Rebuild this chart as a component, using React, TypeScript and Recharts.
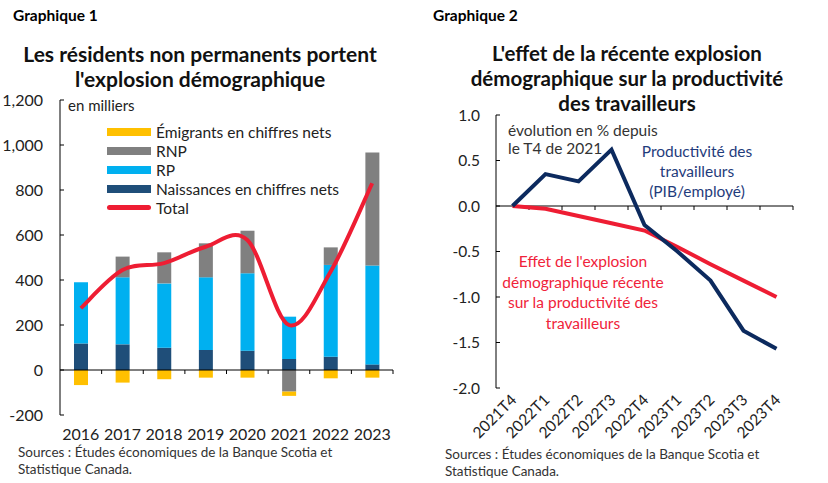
import React from 'react';
import { ComposedChart, LineChart, Bar, Line, XAxis, YAxis, ReferenceLine, Legend } from 'recharts';

// ---------- Graphique 1 data ----------
const years = ['2016', '2017', '2018', '2019', '2020', '2021', '2022', '2023'];
const naissances = [118, 114, 99, 89, 86, 49, 59, 25];
const rp = [272, 298, 286, 323, 344, 188, 408, 439];
const rnp = [0, 92, 138, 151, 189, -96, 78, 503];
const emigrants = [-67, -56, -41, -34, -34, -19, -37, -34];
const total = [275, 444, 475, 548, 578, 200, 437, 830];
const leftTicks = [-200, 0, 200, 400, 600, 800, 1000, 1200];

// ---------- Graphique 2 data ----------
const quarters = ['2021T4', '2022T1', '2022T2', '2022T3', '2022T4', '2023T1', '2023T2', '2023T3', '2023T4'];
const productivite = [0, 0.35, 0.27, 0.62, -0.21, -0.5, -0.82, -1.37, -1.57];
const effet = [0, -0.03, -0.11, -0.19, -0.27, -0.45, -0.64, -0.82, -1.0];
const rightTicks = [-2, -1.5, -1, -0.5, 0, 0.5, 1];

const FONT = 'Lato, "Open Sans", sans-serif';
const C_YELLOW = '#FFC000';
const C_GRAY = '#808080';
const C_LBLUE = '#00B0F0';
const C_DBLUE = '#1F4E79';
const C_RED = '#EE1D33';
const C_NAVY = '#0C2A5E';

const data1 = years.map((y, i) => ({
  year: y,
  naissances: naissances[i],
  rp: rp[i],
  rnp: rnp[i],
  emigrants: emigrants[i],
  total: total[i],
}));

const data2 = quarters.map((q, i) => ({
  q,
  productivite: productivite[i],
  effet: effet[i],
}));

const legendItems = [
  { name: 'Émigrants en chiffres nets', color: C_YELLOW, line: false },
  { name: 'RNP', color: C_GRAY, line: false },
  { name: 'RP', color: C_LBLUE, line: false },
  { name: 'Naissances en chiffres nets', color: C_DBLUE, line: false },
  { name: 'Total', color: C_RED, line: true },
];

// Catmull-Rom style smoothing (like spreadsheet "smoothed line")
const smoothCurve: any = (context: any) => {
  let pts: number[][] = [];
  return {
    areaStart() {},
    areaEnd() {},
    lineStart() {
      pts = [];
    },
    point(x: number, y: number) {
      pts.push([+x, +y]);
    },
    lineEnd() {
      const n = pts.length;
      if (!n) return;
      context.moveTo(pts[0][0], pts[0][1]);
      for (let i = 0; i < n - 1; i++) {
        const p0 = pts[i - 1] || pts[i];
        const p1 = pts[i];
        const p2 = pts[i + 1];
        const p3 = pts[i + 2] || p2;
        context.bezierCurveTo(
          p1[0] + (p2[0] - p0[0]) / 6,
          p1[1] + (p2[1] - p0[1]) / 6,
          p2[0] - (p3[0] - p1[0]) / 6,
          p2[1] - (p3[1] - p1[1]) / 6,
          p2[0],
          p2[1]
        );
      }
    },
  };
};

const makeZeroAxis = (count: number) => (props: any) => {
  const { x1, y1, x2 } = props;
  const step = (x2 - x1) / count;
  const ticks = [];
  for (let i = 1; i <= count; i++) {
    const x = x1 + step * i;
    ticks.push(<line key={i} x1={x} x2={x} y1={y1} y2={y1 + 4} stroke="#000" strokeWidth={1} />);
  }
  return (
    <g>
      <line x1={x1} x2={x2} y1={y1} y2={y1} stroke="#000" strokeWidth={1} />
      {ticks}
    </g>
  );
};

const renderLegend = () => (
  <div style={{ fontFamily: FONT, fontSize: 15.5, color: '#222' }}>
    {legendItems.map((it) => (
      <div key={it.name} style={{ display: 'flex', alignItems: 'center', height: 19 }}>
        <div
          style={{
            width: 44,
            height: it.line ? 5 : 8,
            background: it.color,
            borderRadius: it.line ? 3 : 0,
            marginRight: 5,
          }}
        />
        <span style={{ whiteSpace: 'nowrap' }}>{it.name}</span>
      </div>
    ))}
  </div>
);

const RotTick = (props: any) => {
  const { x, y, payload } = props;
  return (
    <g transform={`translate(${x + 5},${y + 13})`}>
      <text
        x={0}
        y={0}
        transform="rotate(-45)"
        textAnchor="end"
        fontFamily={FONT}
        fontSize={15.5}
        fill="#222"
      >
        {payload.value}
      </text>
    </g>
  );
};

const abs = (left: number, top: number, extra: any = {}) => ({
  position: 'absolute' as const,
  left,
  top,
  fontFamily: FONT,
  whiteSpace: 'nowrap' as const,
  ...extra,
});

export default function App() {
  return (
    <div style={{ position: 'absolute', left: 0, top: 0, width: 828, height: 483, background: '#fff', fontFamily: FONT }}>
      {/* Headers */}
      <div style={abs(13, 6, { fontSize: 15.5, fontWeight: 700, color: '#000' })}>Graphique 1</div>
      <div style={abs(433, 6, { fontSize: 15.5, fontWeight: 700, color: '#000' })}>Graphique 2</div>

      <div style={abs(0, 41, { width: 400, textAlign: 'center', fontSize: 21, fontWeight: 700, lineHeight: '25px', color: '#111' })}>
        Les résidents non permanents portent
        <br />
        l'explosion démographique
      </div>
      <div style={abs(420, 41, { width: 414, textAlign: 'center', fontSize: 20.5, fontWeight: 700, lineHeight: '25px', color: '#111' })}>
        L'effet de la récente explosion
        <br />
        démographique sur la productivité
        <br />
        des travailleurs
      </div>

      {/* Chart 1 */}
      <div style={{ position: 'absolute', left: 0, top: 0 }}>
        <ComposedChart
          width={420}
          height={483}
          data={data1}
          stackOffset="sign"
          margin={{ top: 100, right: 27, bottom: 38, left: 0 }}
        >
          <XAxis
            dataKey="year"
            axisLine={false}
            tickLine={false}
            tickSize={0}
            tickMargin={14}
            height={30}
            interval={0}
            tick={{ fontFamily: FONT, fontSize: 16, fill: '#222' }}
          />
          <YAxis
            width={60}
            domain={[-200, 1200]}
            ticks={leftTicks}
            interval={0}
            tickSize={-4}
            tickMargin={21}
            axisLine={{ stroke: '#000' }}
            tickLine={{ stroke: '#000' }}
            tickFormatter={(v: number) => v.toLocaleString('en-US')}
            tick={{ fontFamily: FONT, fontSize: 16, fill: '#222' }}
          />
          <Legend
            layout="vertical"
            align="center"
            verticalAlign="middle"
            content={renderLegend}
            wrapperStyle={{ position: 'absolute', left: 107, top: 122, width: 280 }}
          />
          <Bar dataKey="naissances" stackId="a" fill={C_DBLUE} barSize={14} isAnimationActive={false} />
          <Bar dataKey="rp" stackId="a" fill={C_LBLUE} barSize={14} isAnimationActive={false} />
          <Bar dataKey="rnp" stackId="a" fill={C_GRAY} barSize={14} isAnimationActive={false} />
          <Bar dataKey="emigrants" stackId="a" fill={C_YELLOW} barSize={14} isAnimationActive={false} />
          <ReferenceLine y={0} shape={makeZeroAxis(years.length)} />
          <Line
            dataKey="total"
            type={smoothCurve}
            stroke={C_RED}
            strokeWidth={4}
            dot={false}
            activeDot={false}
            isAnimationActive={false}
          />
        </ComposedChart>
      </div>
      <div style={abs(68, 96, { fontSize: 15, color: '#222' })}>en milliers</div>

      {/* Chart 2 */}
      <div style={{ position: 'absolute', left: 420, top: 0 }}>
        <LineChart width={408} height={483} data={data2} margin={{ top: 115, right: 35, bottom: 35, left: 0 }}>
          <XAxis
            dataKey="q"
            axisLine={false}
            tickLine={false}
            tickSize={0}
            tickMargin={0}
            height={60}
            interval={0}
            padding={{ left: 16.5, right: 16.5 }}
            tick={<RotTick />}
          />
          <YAxis
            width={76}
            domain={[-2, 1]}
            ticks={rightTicks}
            interval={0}
            tickSize={-4}
            tickMargin={20}
            axisLine={{ stroke: '#000' }}
            tickLine={{ stroke: '#000' }}
            tickFormatter={(v: number) => v.toFixed(1)}
            tick={{ fontFamily: FONT, fontSize: 15.5, fill: '#222' }}
          />
          <ReferenceLine y={0} shape={makeZeroAxis(quarters.length)} />
          <Line dataKey="effet" type="linear" stroke={C_RED} strokeWidth={4} dot={false} activeDot={false} isAnimationActive={false} />
          <Line dataKey="productivite" type="linear" stroke={C_NAVY} strokeWidth={4} dot={false} activeDot={false} isAnimationActive={false} />
        </LineChart>
      </div>
      <div style={abs(508, 121, { fontSize: 15.5, lineHeight: '18px', color: '#333' })}>
        évolution en % depuis
        <br />
        le T4 de 2021
      </div>
      <div style={abs(618, 141, { width: 158, textAlign: 'center', fontSize: 15.5, lineHeight: '20px', color: '#1F3C7C' })}>
        Productivité des
        <br />
        travailleurs
        <br />
        (PIB/employé)
      </div>
      <div style={abs(492, 251, { width: 182, textAlign: 'center', fontSize: 15.5, lineHeight: '20.5px', color: '#F0233A' })}>
        Effet de l'explosion
        <br />
        démographique récente
        <br />
        sur la productivité des
        <br />
        travailleurs
      </div>

      {/* Sources */}
      <div style={abs(18, 444, { fontSize: 13.5, lineHeight: '16.5px', color: '#333' })}>
        Sources : Études économiques de la Banque Scotia et
        <br />
        Statistique Canada.
      </div>
      <div style={abs(445, 446, { fontSize: 13.5, lineHeight: '17px', color: '#333' })}>
        Sources : Études économiques de la Banque Scotia et
        <br />
        Statistique Canada.
      </div>
    </div>
  );
}
